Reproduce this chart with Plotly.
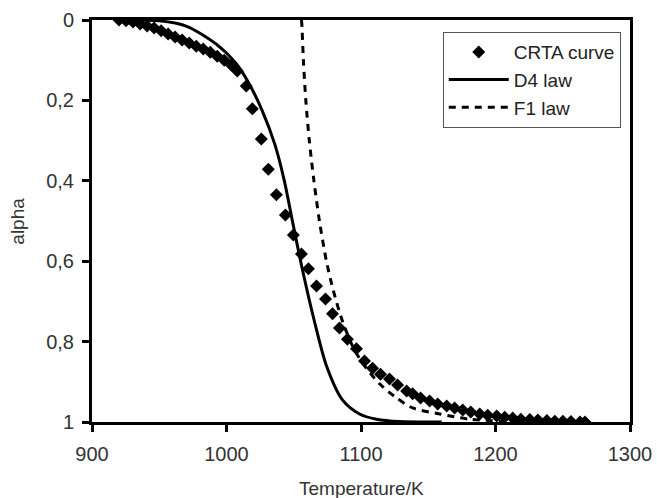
import plotly.graph_objects as go

# CRTA experimental curve (Temperature / K, alpha)
crta_T = [920.1, 925.3, 930.5, 935.8, 941.0, 946.2, 951.4, 956.6, 961.8, 967.0,
          972.3, 977.5, 982.7, 987.9, 993.1, 998.3, 1003.5, 1008.0, 1014.7, 1019.2,
          1025.9, 1031.1, 1037.1, 1043.8, 1049.7, 1055.7, 1060.9, 1066.9, 1073.6, 1078.8,
          1084.0, 1089.9, 1096.6, 1102.6, 1108.6, 1114.5, 1121.2, 1127.2, 1133.9, 1138.4,
          1144.3, 1151.0, 1157.0, 1163.7, 1169.6, 1175.6, 1181.6, 1188.3, 1194.2, 1200.9,
          1206.9, 1212.8, 1218.8, 1225.5, 1231.5, 1238.2, 1244.1, 1250.1, 1256.1, 1262.8,
          1266.5]
crta_alpha = [0.000, 0.002, 0.005, 0.010, 0.015, 0.020, 0.027, 0.035, 0.042, 0.050,
              0.057, 0.065, 0.072, 0.080, 0.090, 0.100, 0.112, 0.127, 0.164, 0.221,
              0.296, 0.371, 0.435, 0.485, 0.535, 0.582, 0.619, 0.662, 0.694, 0.731,
              0.766, 0.794, 0.818, 0.848, 0.866, 0.881, 0.893, 0.908, 0.923, 0.930,
              0.940, 0.948, 0.955, 0.960, 0.965, 0.970, 0.975, 0.980, 0.983, 0.985,
              0.988, 0.990, 0.993, 0.994, 0.995, 0.996, 0.998, 0.998, 0.999, 1.000,
              1.000]

# D4 law
d4_T = [930.0, 949.9, 970.0, 992.4, 1007.3, 1016.9, 1026.6, 1036.0, 1043.0, 1049.0,
        1056.4, 1065.4, 1074.3, 1086.2, 1098.9, 1111.5, 1128.7, 1160.0]
d4_alpha = [0.000, 0.002, 0.015, 0.060, 0.109, 0.159, 0.226, 0.310, 0.400, 0.500,
            0.620, 0.750, 0.860, 0.945, 0.980, 0.993, 0.999, 1.000]

# F1 law
f1_T = [1055.7, 1056.0, 1057.2, 1059.0, 1061.6, 1065.0, 1069.1, 1074.3, 1079.5, 1086.2,
        1093.7, 1101.1, 1113.8, 1126.4, 1138.4, 1158.5, 1180.8, 1218.1]
f1_alpha = [0.000, 0.010, 0.102, 0.201, 0.301, 0.400, 0.500, 0.600, 0.674, 0.749,
            0.811, 0.853, 0.905, 0.940, 0.965, 0.980, 0.993, 0.999]

x_ticks = [900, 1000, 1100, 1200, 1300]
y_ticks = [0, 0.2, 0.4, 0.6, 0.8, 1]
y_ticktext = ["0", "0,2", "0,4", "0,6", "0,8", "1"]

FONT = "Liberation Sans, Arial, sans-serif"

fig = go.Figure()
fig.add_trace(go.Scatter(x=crta_T, y=crta_alpha, mode="markers", name="CRTA curve",
                         marker=dict(symbol="diamond", size=10, color="black")))
fig.add_trace(go.Scatter(x=d4_T, y=d4_alpha, mode="lines", name="D4 law",
                         line=dict(color="black", width=3, shape="spline", smoothing=0.8)))
fig.add_trace(go.Scatter(x=f1_T, y=f1_alpha, mode="lines", name="F1 law",
                         line=dict(color="black", width=3, dash="7px,6px",
                                   shape="spline", smoothing=0.8)))

fig.update_layout(
    width=657, height=498,
    margin=dict(l=92, r=27, t=20, b=76),
    paper_bgcolor="white", plot_bgcolor="white",
    font=dict(family=FONT, size=20, color="#333333"),
    showlegend=True,
    legend=dict(x=0.652, y=0.97, xanchor="left", yanchor="top",
                bgcolor="white", bordercolor="#555555", borderwidth=1,
                font=dict(family=FONT, size=19, color="#222222"),
                itemwidth=60),
    xaxis=dict(range=[900, 1300], tickvals=x_ticks, showgrid=False, zeroline=False,
               showline=True, linecolor="black", linewidth=3, mirror=True,
               ticks="outside", ticklen=7, tickwidth=3, tickcolor="black",
               ticklabelstandoff=5, automargin=False,
               tickfont=dict(size=20, color="#333333")),
    yaxis=dict(range=[1, 0], tickvals=y_ticks, ticktext=y_ticktext, showgrid=False,
               zeroline=False, showline=True, linecolor="black", linewidth=3, mirror=True,
               ticks="outside", ticklen=7, tickwidth=3, tickcolor="black",
               ticklabelstandoff=4, automargin=False,
               tickfont=dict(size=20, color="#333333")),
    annotations=[
        dict(text="Temperature/K", xref="paper", yref="paper", x=0.5, y=-0.165,
             xanchor="center", yanchor="middle", showarrow=False,
             font=dict(size=19, color="#333333")),
        dict(text="alpha", xref="paper", yref="paper", x=-0.14, y=0.5,
             xanchor="center", yanchor="middle", showarrow=False, textangle=-90,
             font=dict(size=19, color="#333333")),
    ],
)

fig.write_html("out.html", config={"displayModeBar": False},
               post_script="document.body.style.margin='0';")
